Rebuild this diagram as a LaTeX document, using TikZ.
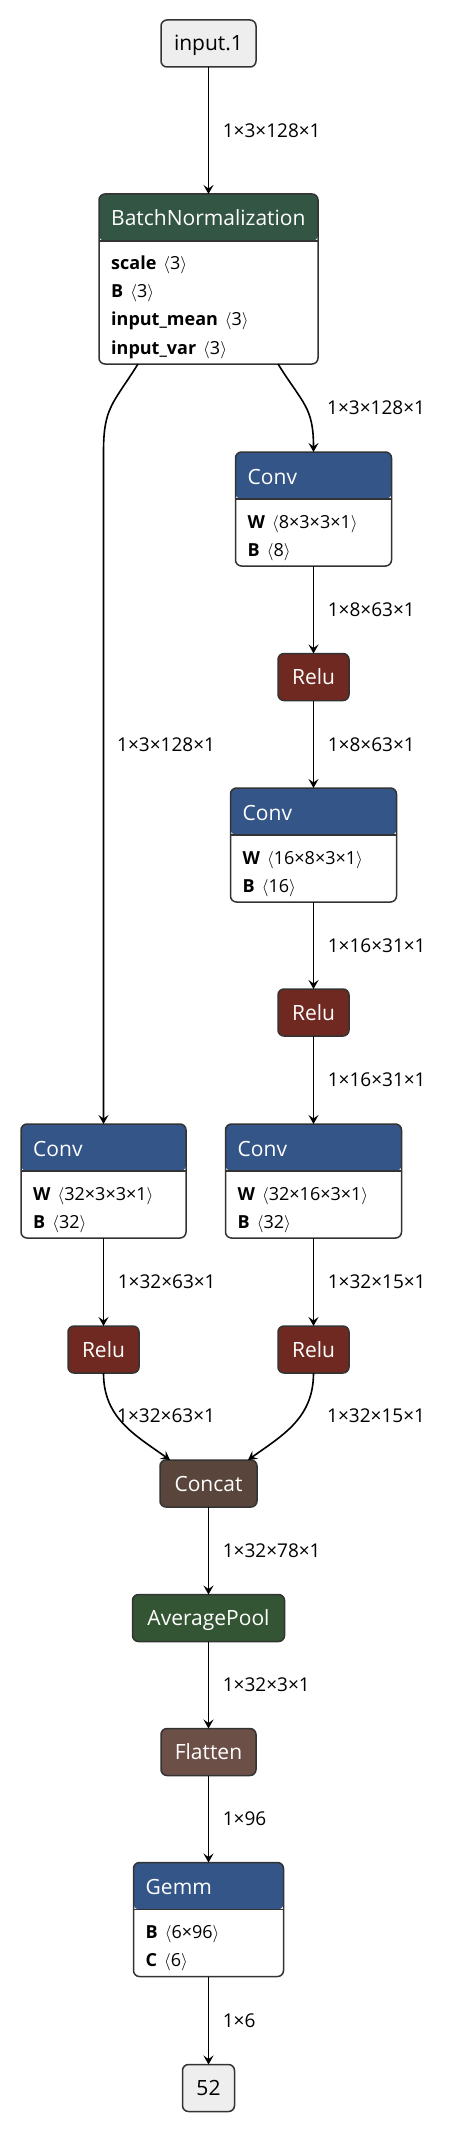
\documentclass[tikz,border=0pt]{standalone}
\usepackage{fontspec}
\setmainfont{Open Sans}
\usepackage{xcolor}
\usetikzlibrary{arrows.meta, positioning, calc}

\definecolor{layercol}{RGB}{51,85,136}
\definecolor{normcol}{RGB}{51,85,68}
\definecolor{actcol}{RGB}{112,41,33}
\definecolor{poolcol}{RGB}{51,85,51}
\definecolor{tensorcol}{RGB}{89,69,60}
\definecolor{shapecol}{RGB}{108,79,71}
\definecolor{iocol}{RGB}{238,238,238}
\definecolor{bordercol}{RGB}{51,51,51}

\newcommand{\tdim}[1]{\hspace{7pt}$\langle$#1$\rangle$}

\begin{document}
\begin{tikzpicture}[
  x=1pt, y=-1pt,
  font=\fontsize{21}{25}\selectfont,
  opbox/.style={rectangle, draw=bordercol, line width=1.5pt, rounded corners=6pt,
                fill=white, inner sep=0pt, outer sep=0pt},
  hdr/.style={path picture={
      \fill[#1] (path picture bounding box.north west) rectangle
                ([yshift=-47pt]path picture bounding box.north east);
      \draw[bordercol, line width=1.5pt]
                ([yshift=-47pt]path picture bounding box.north west) --
                ([yshift=-47pt]path picture bounding box.north east);}},
  plain/.style={rectangle, draw=bordercol, line width=1.5pt, rounded corners=6pt,
                minimum height=47pt, text height=15pt, text depth=0pt,
                inner sep=0pt, outer sep=0pt, text=white, fill=#1},
  io/.style={plain=iocol, text=black},
  ttl/.style={anchor=base west, inner sep=0pt, text=white},
  attr/.style={anchor=base west, inner sep=0pt, font=\fontsize{18}{22}\selectfont},
  lbl/.style={anchor=west, inner sep=0pt, font=\fontsize{19}{22}\selectfont},
  arr/.style={line width=1.6pt, -{Stealth[length=9pt, width=10pt, inset=3.5pt]}}
]
\useasboundingbox (0,0) rectangle (454,2132);

% --- Nodes ---
\node[io, minimum width=95pt] (inp) at (208.5, 43.5) {input.1};

\node[opbox, hdr=normcol, minimum width=219pt, minimum height=170pt] (bn) at (208.5, 279) {};
\node[ttl] (bnt) at ([xshift=12pt, yshift=-32pt]bn.north west) {BatchNormalization};
\node[attr] (bn1) at ([xshift=12pt, yshift=-76pt]bn.north west) {\textbf{scale}\tdim{3}};
\node[attr] (bn2) at ([xshift=12pt, yshift=-104pt]bn.north west) {\textbf{B}\tdim{3}};
\node[attr] (bn3) at ([xshift=12pt, yshift=-132pt]bn.north west) {\textbf{input\_mean}\tdim{3}};
\node[attr] (bn4) at ([xshift=12pt, yshift=-160pt]bn.north west) {\textbf{input\_var}\tdim{3}};

% right branch
\node[opbox, hdr=layercol, minimum width=156pt, minimum height=114pt] (conv1) at (313.5, 509) {};
\node[ttl] (conv1t) at ([xshift=12pt, yshift=-32pt]conv1.north west) {Conv};
\node[attr] (conv1w) at ([xshift=12pt, yshift=-76pt]conv1.north west) {\textbf{W}\tdim{8×3×3×1}};
\node[attr] (conv1b) at ([xshift=12pt, yshift=-104pt]conv1.north west) {\textbf{B}\tdim{8}};

\node[plain=actcol, minimum width=71pt] (relu1) at (313.5, 677) {Relu};

\node[opbox, hdr=layercol, minimum width=166pt, minimum height=114pt] (conv2) at (313.5, 845) {};
\node[ttl] (conv2t) at ([xshift=12pt, yshift=-32pt]conv2.north west) {Conv};
\node[attr] (conv2w) at ([xshift=12pt, yshift=-76pt]conv2.north west) {\textbf{W}\tdim{16×8×3×1}};
\node[attr] (conv2b) at ([xshift=12pt, yshift=-104pt]conv2.north west) {\textbf{B}\tdim{16}};

\node[plain=actcol, minimum width=71pt] (relu2) at (313.5, 1012.5) {Relu};

\node[opbox, hdr=layercol, minimum width=176pt, minimum height=114pt] (conv4) at (313.5, 1181) {};
\node[ttl] (conv4t) at ([xshift=12pt, yshift=-32pt]conv4.north west) {Conv};
\node[attr] (conv4w) at ([xshift=12pt, yshift=-76pt]conv4.north west) {\textbf{W}\tdim{32×16×3×1}};
\node[attr] (conv4b) at ([xshift=12pt, yshift=-104pt]conv4.north west) {\textbf{B}\tdim{32}};

\node[plain=actcol, minimum width=71pt] (relu4) at (313.5, 1349.5) {Relu};

% left branch
\node[opbox, hdr=layercol, minimum width=165pt, minimum height=114pt] (conv3) at (103.5, 1181) {};
\node[ttl] (conv3t) at ([xshift=12pt, yshift=-32pt]conv3.north west) {Conv};
\node[attr] (conv3w) at ([xshift=12pt, yshift=-76pt]conv3.north west) {\textbf{W}\tdim{32×3×3×1}};
\node[attr] (conv3b) at ([xshift=12pt, yshift=-104pt]conv3.north west) {\textbf{B}\tdim{32}};

\node[plain=actcol, minimum width=71pt] (relu3) at (103.5, 1349.5) {Relu};

% tail
\node[plain=tensorcol, minimum width=97pt] (cat) at (208.5, 1483.5) {Concat};
\node[plain=poolcol, minimum width=152pt] (pool) at (208.5, 1618) {AveragePool};
\node[plain=shapecol, minimum width=95pt] (flat) at (208.5, 1752) {Flatten};

\node[opbox, hdr=layercol, minimum width=150pt, minimum height=114pt] (gemm) at (208.5, 1919.5) {};
\node[ttl] (gemmt) at ([xshift=12pt, yshift=-32pt]gemm.north west) {Gemm};
\node[attr] (gemmb) at ([xshift=12pt, yshift=-76pt]gemm.north west) {\textbf{B}\tdim{6×96}};
\node[attr] (gemmc) at ([xshift=12pt, yshift=-104pt]gemm.north west) {\textbf{C}\tdim{6}};

\node[io, minimum width=52pt] (out) at (208.5, 2088) {52};

% --- Edges ---
\draw[arr] (inp) -- node[lbl, xshift=13.5pt] (e1) {1×3×128×1} (bn);

% BatchNormalization splits in two
\draw[arr] ([xshift=69.5pt]bn.south) .. controls +(25,40) and +(0,-45) .. (conv1.north);
\node[lbl] (e2) at (327, 408) {1×3×128×1};
\draw[arr] ([xshift=-70.5pt]bn.south) .. controls +(-25,40) and +(0,-45) .. (conv3.north |- conv1.north) -- (conv3.north);
\node[lbl] (e3) at (117, 745) {1×3×128×1};

\draw[arr] (conv1) -- node[lbl, xshift=13.5pt] (e4) {1×8×63×1} (relu1);
\draw[arr] (relu1) -- node[lbl, xshift=13.5pt] (e5) {1×8×63×1} (conv2);
\draw[arr] (conv2) -- node[lbl, xshift=13.5pt] (e6) {1×16×31×1} (relu2);
\draw[arr] (relu2) -- node[lbl, xshift=13.5pt] (e7) {1×16×31×1} (conv4);
\draw[arr] (conv4) -- node[lbl, xshift=13.5pt] (e8) {1×32×15×1} (relu4);
\draw[arr] (conv3) -- node[lbl, xshift=13.5pt] (e9) {1×32×63×1} (relu3);

% merge into Concat
\draw[arr] (relu3.south) .. controls +(0,45) and +(-35,-25) .. ([xshift=-38.5pt]cat.north);
\node[lbl] (e10) at (117, 1416) {1×32×63×1};
\draw[arr] (relu4.south) .. controls +(0,45) and +(35,-25) .. ([xshift=39.5pt]cat.north);
\node[lbl] (e11) at (327, 1416) {1×32×15×1};

\draw[arr] (cat) -- node[lbl, xshift=13.5pt] (e12) {1×32×78×1} (pool);
\draw[arr] (pool) -- node[lbl, xshift=13.5pt] (e13) {1×32×3×1} (flat);
\draw[arr] (flat) -- node[lbl, xshift=13.5pt] (e14) {1×96} (gemm);
\draw[arr] (gemm) -- node[lbl, xshift=13.5pt] (e15) {1×6} (out);

\end{tikzpicture}
\end{document}
